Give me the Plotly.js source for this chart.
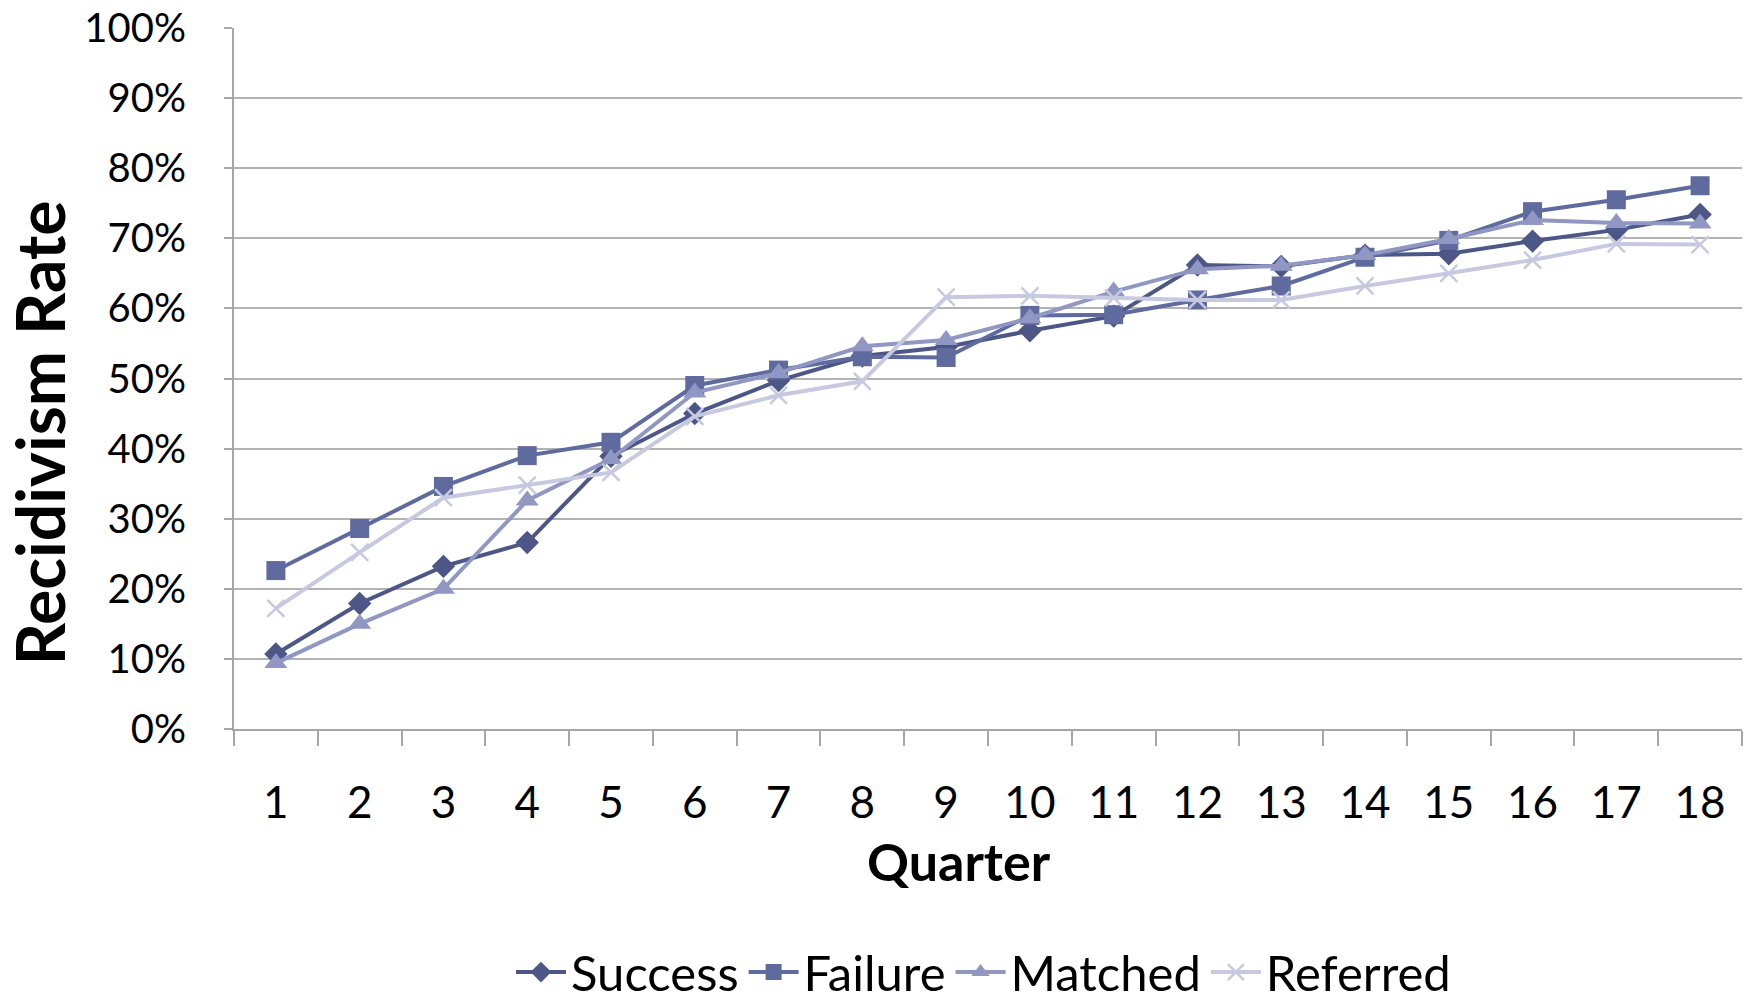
<!DOCTYPE html>
<html>
<head>
<meta charset="utf-8">
<script src="https://cdn.plot.ly/plotly-3.0.1.min.js"></script>
<style>
  html, body { margin: 0; padding: 0; background: #ffffff; }
  #chart { width: 1750px; height: 1000px; }
</style>
</head>
<body>
<div id="chart"></div>
<script>
const quarters = ['1','2','3','4','5','6','7','8','9','10','11','12','13','14','15','16','17','18'];
const success  = [10.7, 17.9, 23.2, 26.6, 38.9, 45.0, 49.7, 53.2, 54.5, 56.8, 58.9, 66.2, 66.0, 67.6, 67.8, 69.6, 71.2, 73.4];
const failure  = [22.6, 28.6, 34.6, 39.0, 40.9, 49.0, 51.2, 53.1, 53.0, 59.0, 59.1, 61.2, 63.2, 67.3, 69.7, 73.8, 75.5, 77.5];
const matched  = [9.4, 15.0, 20.0, 32.6, 38.5, 48.0, 50.8, 54.6, 55.5, 58.6, 62.4, 65.6, 66.1, 67.6, 69.9, 72.6, 72.2, 72.1];
const referred = [17.2, 25.2, 33.0, 34.8, 36.6, 44.6, 47.6, 49.6, 61.6, 61.8, 61.5, 61.2, 61.2, 63.2, 65.0, 66.9, 69.2, 69.1];
const yTicks = [0,10,20,30,40,50,60,70,80,90,100];

const FONT = 'Lato, "Open Sans", "DejaVu Sans", sans-serif';

function series(name, y, color, symbol, size) {
  return {
    type: 'scatter', mode: 'lines+markers', name: name,
    x: quarters, y: y,
    line: { color: color, width: 4 },
    marker: { symbol: symbol, size: size, color: color, line: { width: symbol === 'x-thin' ? 2.5 : 0, color: color } }
  };
}

const data = [
  series('Success', success, '#4c5687', 'diamond', 18),
  series('Failure', failure, '#5f6a9e', 'square', 19),
  series('Matched', matched, '#8f97c2', 'triangle-up', 20),
  series('Referred', referred, '#c6c9df', 'x-thin', 17)
];

const layout = {
  width: 1750, height: 1000,
  paper_bgcolor: '#ffffff', plot_bgcolor: '#ffffff',
  margin: { l: 234, r: 8, t: 28, b: 271, autoexpand: false },
  font: { family: FONT, color: '#000000' },
  showlegend: true,
  legend: {
    orientation: 'h', x: 0.497, xanchor: 'center', y: -0.347, yanchor: 'middle',
    font: { size: 49, family: FONT, color: '#000000' },
    itemwidth: 50, tracegroupgap: 0, itemsizing: 'trace'
  },
  xaxis: {
    type: 'category',
    range: [-0.5, 17.5],
    automargin: false,
    showgrid: false, zeroline: false,
    showline: true, linecolor: '#a6a6a6', linewidth: 2,
    ticks: 'outside', tickson: 'boundaries', ticklen: 15, tickwidth: 2, tickcolor: '#a6a6a6',
    tickfont: { size: 44, family: FONT, color: '#000000' },
    ticklabelstandoff: 34
  },
  yaxis: {
    range: [0, 100],
    automargin: false,
    tickvals: yTicks,
    ticktext: yTicks.map(v => v + '%'),
    showgrid: true, gridcolor: '#b3b3b3', gridwidth: 2,
    zeroline: false,
    showline: true, linecolor: '#a6a6a6', linewidth: 2,
    ticks: 'outside', ticklen: 8, tickwidth: 2, tickcolor: '#a6a6a6',
    tickfont: { size: 40, family: FONT, color: '#000000' },
    ticklabelstandoff: 30
  },
  annotations: [
    {
      text: 'Recidivism Rate', xref: 'paper', yref: 'paper',
      x: -0.1293, y: 0.422, xanchor: 'center', yanchor: 'middle',
      textangle: -90, showarrow: false,
      font: { size: 66, family: FONT, color: '#000000', weight: 'bold' }
    },
    {
      text: 'Quarter', xref: 'paper', yref: 'paper',
      x: 0.4807, y: -0.188, xanchor: 'center', yanchor: 'middle',
      showarrow: false,
      font: { size: 52, family: FONT, color: '#000000', weight: 'bold' }
    }
  ]
};

Plotly.newPlot('chart', data, layout, { displayModeBar: false, staticPlot: true });
</script>
</body>
</html>
